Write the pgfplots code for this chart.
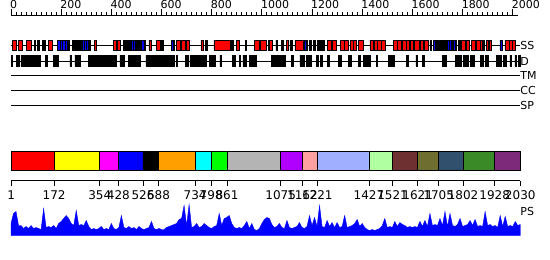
\documentclass[border=0pt]{standalone}
\usepackage{pgfplots}
\usepackage{pgfplotstable}
\pgfplotsset{compat=1.18}
\usepackage{fontspec}
\setmainfont{DejaVu Sans}
\definecolor{d1}{HTML}{FF0000}
\definecolor{d2}{HTML}{FFFF00}
\definecolor{d3}{HTML}{FF00FF}
\definecolor{d4}{HTML}{0000FF}
\definecolor{d5}{HTML}{000000}
\definecolor{d6}{HTML}{FFA000}
\definecolor{d7}{HTML}{00FFFF}
\definecolor{d8}{HTML}{00FF00}
\definecolor{d9}{HTML}{B4B4B4}
\definecolor{d10}{HTML}{B000FF}
\definecolor{d11}{HTML}{FFA0A0}
\definecolor{d12}{HTML}{A0AFFF}
\definecolor{d13}{HTML}{B0FFA0}
\definecolor{d14}{HTML}{6E3030}
\definecolor{d15}{HTML}{6E6E30}
\definecolor{d16}{HTML}{30506E}
\definecolor{d17}{HTML}{3A8A28}
\definecolor{d18}{HTML}{7E2A7A}
\pgfplotstableread{
r h
0 12
10 22
20 24
30 10
40 10
50 7
60 9
70 7
80 10
90 7
100 8
110 7
120 6
130 27
140 8
150 9
160 8
170 10
180 7
190 12
200 14
210 17
220 20
230 17
240 12
250 10
260 25
270 10
280 11
290 10
300 15
310 9
320 6
330 7
340 6
350 7
360 9
370 6
380 7
390 6
400 12
410 7
420 6
430 8
440 20
450 8
460 7
470 9
480 7
490 8
500 6
510 9
520 7
530 6
540 7
550 8
560 14
570 7
580 6
590 7
600 6
610 6
620 8
630 9
640 10
650 11
660 12
670 16
680 17
690 30
700 10
710 31
720 8
730 9
740 12
750 8
760 9
770 12
780 10
790 8
800 7
810 9
820 10
830 22
840 10
850 17
860 18
870 20
880 12
890 8
900 7
910 8
920 7
930 10
940 14
950 7
960 12
970 6
980 5
990 7
1000 12
1010 16
1020 18
1030 17
1040 11
1050 8
1060 9
1070 12
1080 8
1090 7
1100 15
1110 8
1120 7
1130 8
1140 9
1150 13
1160 8
1170 7
1180 9
1190 20
1200 10
1210 18
1220 9
1230 30
1240 9
1250 8
1260 15
1270 9
1280 13
1290 8
1300 13
1310 8
1320 9
1330 20
1340 8
1350 9
1360 10
1370 12
1380 16
1390 9
1400 12
1410 8
1420 6
1430 5
1440 6
1450 5
1460 6
1470 7
1480 10
1490 17
1500 8
1510 9
1520 8
1530 14
1540 9
1550 13
1560 11
1570 10
1580 8
1590 9
1600 8
1610 9
1620 8
1630 14
1640 9
1650 15
1660 9
1670 22
1680 10
1690 11
1700 10
1710 17
1720 10
1730 24
1740 9
1750 22
1760 10
1770 9
1780 11
1790 17
1800 9
1810 10
1820 11
1830 15
1840 10
1850 16
1860 9
1870 10
1880 9
1890 24
1900 10
1910 11
1920 9
1930 10
1940 8
1950 20
1960 9
1970 19
1980 9
1990 10
2000 9
2010 14
2020 10
2030 11
}\psdata
\begin{document}
\begin{tikzpicture}
\useasboundingbox (0,0) rectangle (550bp,260bp);
\pgfplotsset{ss/.style={draw=black, line width=0.8bp, unbounded coords=jump},
 dom/.style={draw=black, line width=0.9bp}}
\begin{axis}[name=main, at={(0,0)}, anchor=south west, width=550bp, height=260bp,
  scale only axis, hide axis, clip=false, xmin=-43.85, xmax=2148.6,
  ymin=0, ymax=260, y dir=reverse]
% track lines
\addplot[black, line width=0.9bp] coordinates {(0,45) (2030,45)};
\addplot[black, line width=0.9bp] coordinates {(0,61) (2030,61)};
\addplot[black, line width=0.9bp] coordinates {(0,75) (2030,75)};
\addplot[black, line width=0.9bp] coordinates {(0,90) (2030,90)};
\addplot[black, line width=0.9bp] coordinates {(0,105) (2030,105)};
% SS helices (red)
\addplot[ss, fill=red] coordinates {
(7,40)(20,40)(20,50)(7,50)(7,40)(nan,nan)
(29,40)(47,40)(47,50)(29,50)(29,40)(nan,nan)
(62,40)(80,40)(80,50)(62,50)(62,40)(nan,nan)
(149,40)(165,40)(165,50)(149,50)(149,40)(nan,nan)
(332,40)(342,40)(342,50)(332,50)(332,40)(nan,nan)
(408,40)(419,40)(419,50)(408,50)(408,40)(nan,nan)
(424,40)(437,40)(437,50)(424,50)(424,40)(nan,nan)
(550,40)(558,40)(558,50)(550,50)(550,40)(nan,nan)
(581,40)(594,40)(594,50)(581,50)(581,40)(nan,nan)
(660,40)(676,40)(676,50)(660,50)(660,40)(nan,nan)
(678,40)(694,40)(694,50)(678,50)(678,40)(nan,nan)
(700,40)(713,40)(713,50)(700,50)(700,40)(nan,nan)
(757,40)(767,40)(767,50)(757,50)(757,40)(nan,nan)
(809,40)(873,40)(873,50)(809,50)(809,40)(nan,nan)
(900,40)(909,40)(909,50)(900,50)(900,40)(nan,nan)
(933,40)(939,40)(939,50)(933,50)(933,40)(nan,nan)
(970,40)(992,40)(992,50)(970,50)(970,40)(nan,nan)
(994,40)(1019,40)(1019,50)(994,50)(994,40)(nan,nan)
(1032,40)(1043,40)(1043,50)(1032,50)(1032,40)(nan,nan)
(1099,40)(1105,40)(1105,50)(1099,50)(1099,40)(nan,nan)
(1132,40)(1165,40)(1165,50)(1132,50)(1132,40)(nan,nan)
(1261,40)(1279,40)(1279,50)(1261,50)(1261,40)(nan,nan)
(1281,40)(1298,40)(1298,50)(1281,50)(1281,40)(nan,nan)
(1315,40)(1330,40)(1330,50)(1315,50)(1315,40)(nan,nan)
(1331,40)(1344,40)(1344,50)(1331,50)(1331,40)(nan,nan)
(1351,40)(1364,40)(1364,50)(1351,50)(1351,40)(nan,nan)
(1366,40)(1378,40)(1378,50)(1366,50)(1366,40)(nan,nan)
(1384,40)(1404,40)(1404,50)(1384,50)(1384,40)(nan,nan)
(1431,40)(1445,40)(1445,50)(1431,50)(1431,40)(nan,nan)
(1447,40)(1460,40)(1460,50)(1447,50)(1447,40)(nan,nan)
(1462,40)(1475,40)(1475,50)(1462,50)(1462,40)(nan,nan)
(1477,40)(1491,40)(1491,50)(1477,50)(1477,40)(nan,nan)
(1524,40)(1540,40)(1540,50)(1524,50)(1524,40)(nan,nan)
(1542,40)(1558,40)(1558,50)(1542,50)(1542,40)(nan,nan)
(1560,40)(1575,40)(1575,50)(1560,50)(1560,40)(nan,nan)
(1577,40)(1590,40)(1590,50)(1577,50)(1577,40)(nan,nan)
(1592,40)(1604,40)(1604,50)(1592,50)(1592,40)(nan,nan)
(1610,40)(1626,40)(1626,50)(1610,50)(1610,40)(nan,nan)
(1630,40)(1645,40)(1645,50)(1630,50)(1630,40)(nan,nan)
(1647,40)(1663,40)(1663,50)(1647,50)(1647,40)(nan,nan)
(1796,40)(1812,40)(1812,50)(1796,50)(1796,40)(nan,nan)
(1814,40)(1829,40)(1829,50)(1814,50)(1814,40)(nan,nan)
(1836,40)(1852,40)(1852,50)(1836,50)(1836,40)(nan,nan)
(1854,40)(1870,40)(1870,50)(1854,50)(1854,40)(nan,nan)
(1872,40)(1880,40)(1880,50)(1872,50)(1872,40)(nan,nan)
(1882,40)(1889,40)(1889,50)(1882,50)(1882,40)(nan,nan)
(1896,40)(1905,40)(1905,50)(1896,50)(1896,40)(nan,nan)
(1907,40)(1916,40)(1916,50)(1907,50)(1907,40)(nan,nan)
(1969,40)(1985,40)(1985,50)(1969,50)(1969,40)(nan,nan)
(1987,40)(1998,40)(1998,50)(1987,50)(1987,40)(nan,nan)
(2000,40)(2009,40)(2009,50)(2000,50)(2000,40)
};
% SS strands (blue)
\addplot[ss, fill=blue] coordinates {
(185,40)(195,40)(195,50)(185,50)(185,40)(nan,nan)
(195,40)(205,40)(205,50)(195,50)(195,40)(nan,nan)
(205,40)(215,40)(215,50)(205,50)(205,40)(nan,nan)
(215,40)(226,40)(226,50)(215,50)(215,40)(nan,nan)
(286,40)(293,40)(293,50)(286,50)(286,40)(nan,nan)
(294,40)(301,40)(301,50)(294,50)(294,40)(nan,nan)
(302,40)(309,40)(309,50)(302,50)(302,40)(nan,nan)
(474,40)(480,40)(480,50)(474,50)(474,40)(nan,nan)
(480,40)(487,40)(487,50)(480,50)(480,40)(nan,nan)
(487,40)(494,40)(494,50)(487,50)(487,40)(nan,nan)
(520,40)(530,40)(530,50)(520,50)(520,40)(nan,nan)
(640,40)(646,40)(646,50)(640,50)(640,40)(nan,nan)
(1169,40)(1176,40)(1176,50)(1169,50)(1169,40)(nan,nan)
(1683,40)(1690,40)(1690,50)(1683,50)(1683,40)(nan,nan)
(1690,40)(1697,40)(1697,50)(1690,50)(1690,40)(nan,nan)
(1702,40)(1709,40)(1709,50)(1702,50)(1702,40)(nan,nan)
(1740,40)(1748,40)(1748,50)(1740,50)(1740,40)(nan,nan)
(1748,40)(1756,40)(1756,50)(1748,50)(1748,40)(nan,nan)
(1765,40)(1772,40)(1772,50)(1765,50)(1765,40)(nan,nan)
(1949,40)(1958,40)(1958,50)(1949,50)(1949,40)
};
% SS other (black)
\addplot[ss, fill=black] coordinates {
(92,40)(97,40)(97,50)(92,50)(92,40)(nan,nan)
(105,40)(112,40)(112,50)(105,50)(105,40)(nan,nan)
(124,40)(136,40)(136,50)(124,50)(124,40)(nan,nan)
(226,40)(232,40)(232,50)(226,50)(226,40)(nan,nan)
(246,40)(286,40)(286,50)(246,50)(246,40)(nan,nan)
(309,40)(315,40)(315,50)(309,50)(309,40)(nan,nan)
(448,40)(461,40)(461,50)(448,50)(448,40)(nan,nan)
(465,40)(474,40)(474,50)(465,50)(465,40)(nan,nan)
(494,40)(520,40)(520,50)(494,50)(494,40)(nan,nan)
(530,40)(534,40)(534,50)(530,50)(530,40)(nan,nan)
(600,40)(607,40)(607,50)(600,50)(600,40)(nan,nan)
(646,40)(651,40)(651,50)(646,50)(646,40)(nan,nan)
(776,40)(784,40)(784,50)(776,50)(776,40)(nan,nan)
(880,40)(886,40)(886,50)(880,50)(880,40)(nan,nan)
(1026,40)(1031,40)(1031,50)(1026,50)(1026,40)(nan,nan)
(1056,40)(1061,40)(1061,50)(1056,50)(1056,40)(nan,nan)
(1079,40)(1085,40)(1085,50)(1079,50)(1079,40)(nan,nan)
(1112,40)(1123,40)(1123,50)(1112,50)(1112,40)(nan,nan)
(1176,40)(1181,40)(1181,50)(1176,50)(1176,40)(nan,nan)
(1189,40)(1199,40)(1199,50)(1189,50)(1189,40)(nan,nan)
(1205,40)(1212,40)(1212,50)(1205,50)(1205,40)(nan,nan)
(1222,40)(1232,40)(1232,50)(1222,50)(1222,40)(nan,nan)
(1238,40)(1248,40)(1248,50)(1238,50)(1238,40)(nan,nan)
(1670,40)(1677,40)(1677,50)(1670,50)(1670,40)(nan,nan)
(1697,40)(1702,40)(1702,50)(1697,50)(1697,40)(nan,nan)
(1709,40)(1730,40)(1730,50)(1709,50)(1709,40)(nan,nan)
(1737,40)(1740,40)(1740,50)(1737,50)(1737,40)(nan,nan)
(1756,40)(1765,40)(1765,50)(1756,50)(1756,40)(nan,nan)
(1772,40)(1777,40)(1777,50)(1772,50)(1772,40)(nan,nan)
(1783,40)(1790,40)(1790,50)(1783,50)(1783,40)
};
% Disorder
\addplot[draw=black, fill=black, line width=0.5bp, unbounded coords=jump] coordinates {
(0,55)(4,55)(4,66)(0,66)(0,55)(nan,nan)
(20,55)(33,55)(33,66)(20,66)(20,55)(nan,nan)
(39,55)(116,55)(116,66)(39,66)(39,55)(nan,nan)
(138,55)(146,55)(146,66)(138,66)(138,55)(nan,nan)
(169,55)(189,55)(189,66)(169,66)(169,55)(nan,nan)
(235,55)(242,55)(242,66)(235,66)(235,55)(nan,nan)
(255,55)(262,55)(262,66)(255,66)(255,55)(nan,nan)
(266,55)(275,55)(275,66)(266,66)(266,55)(nan,nan)
(308,55)(421,55)(421,66)(308,66)(308,55)(nan,nan)
(434,55)(450,55)(450,66)(434,66)(434,55)(nan,nan)
(468,55)(514,55)(514,66)(468,66)(468,55)(nan,nan)
(538,55)(641,55)(641,66)(538,66)(538,55)(nan,nan)
(644,55)(650,55)(650,66)(644,66)(644,55)(nan,nan)
(658,55)(663,55)(663,66)(658,66)(658,55)(nan,nan)
(694,55)(707,55)(707,66)(694,66)(694,55)(nan,nan)
(713,55)(780,55)(780,66)(713,66)(713,55)(nan,nan)
(790,55)(813,55)(813,66)(790,66)(790,55)(nan,nan)
(833,55)(837,55)(837,66)(833,66)(833,55)(nan,nan)
(882,55)(893,55)(893,66)(882,66)(882,55)(nan,nan)
(910,55)(915,55)(915,66)(910,66)(910,55)(nan,nan)
(924,55)(929,55)(929,66)(924,66)(924,55)(nan,nan)
(933,55)(939,55)(939,66)(933,66)(933,55)(nan,nan)
(950,55)(979,55)(979,66)(950,66)(950,55)(nan,nan)
(1039,55)(1092,55)(1092,66)(1039,66)(1039,55)(nan,nan)
(1119,55)(1125,55)(1125,66)(1119,66)(1119,55)(nan,nan)
(1152,55)(1159,55)(1159,66)(1152,66)(1152,55)(nan,nan)
(1161,55)(1168,55)(1168,66)(1161,66)(1161,55)(nan,nan)
(1176,55)(1198,55)(1198,66)(1176,66)(1176,55)(nan,nan)
(1218,55)(1225,55)(1225,66)(1218,66)(1218,55)(nan,nan)
(1234,55)(1241,55)(1241,66)(1234,66)(1234,55)(nan,nan)
(1262,55)(1269,55)(1269,66)(1262,66)(1262,55)(nan,nan)
(1305,55)(1318,55)(1318,66)(1305,66)(1305,55)(nan,nan)
(1345,55)(1358,55)(1358,66)(1345,66)(1345,55)(nan,nan)
(1384,55)(1391,55)(1391,66)(1384,66)(1384,55)(nan,nan)
(1404,55)(1424,55)(1424,66)(1404,66)(1404,55)(nan,nan)
(1427,55)(1431,55)(1431,66)(1427,66)(1427,55)(nan,nan)
(1455,55)(1458,55)(1458,66)(1455,66)(1455,55)(nan,nan)
(1504,55)(1527,55)(1527,66)(1504,66)(1504,55)(nan,nan)
(1577,55)(1584,55)(1584,66)(1577,66)(1577,55)(nan,nan)
(1614,55)(1619,55)(1619,66)(1614,66)(1614,55)(nan,nan)
(1641,55)(1646,55)(1646,66)(1641,66)(1641,55)(nan,nan)
(1719,55)(1726,55)(1726,66)(1719,66)(1719,55)(nan,nan)
(1730,55)(1737,55)(1737,66)(1730,66)(1730,55)(nan,nan)
(1772,55)(1796,55)(1796,66)(1772,66)(1772,55)(nan,nan)
(1803,55)(1823,55)(1823,66)(1803,66)(1803,55)(nan,nan)
(1830,55)(1846,55)(1846,66)(1830,66)(1830,55)(nan,nan)
(1870,55)(1883,55)(1883,66)(1870,66)(1870,55)(nan,nan)
(1890,55)(1903,55)(1903,66)(1890,66)(1890,55)(nan,nan)
(1936,55)(1956,55)(1956,66)(1936,66)(1936,55)(nan,nan)
(1962,55)(1976,55)(1976,66)(1962,66)(1962,55)(nan,nan)
(1989,55)(1996,55)(1996,66)(1989,66)(1989,55)(nan,nan)
(2009,55)(2016,55)(2016,66)(2009,66)(2009,55)(nan,nan)
(2022,55)(2029,55)(2029,66)(2022,66)(2022,55)
};
% domains
\addplot[dom, fill=d1] coordinates {(1,151)(172,151)(172,170)(1,170)(1,151)};
\addplot[dom, fill=d2] coordinates {(172,151)(354,151)(354,170)(172,170)(172,151)};
\addplot[dom, fill=d3] coordinates {(354,151)(428,151)(428,170)(354,170)(354,151)};
\addplot[dom, fill=d4] coordinates {(428,151)(526,151)(526,170)(428,170)(428,151)};
\addplot[dom, fill=d5] coordinates {(526,151)(588,151)(588,170)(526,170)(526,151)};
\addplot[dom, fill=d6] coordinates {(588,151)(734,151)(734,170)(588,170)(588,151)};
\addplot[dom, fill=d7] coordinates {(734,151)(798,151)(798,170)(734,170)(734,151)};
\addplot[dom, fill=d8] coordinates {(798,151)(861,151)(861,170)(798,170)(798,151)};
\addplot[dom, fill=d9] coordinates {(861,151)(1075,151)(1075,170)(861,170)(861,151)};
\addplot[dom, fill=d10] coordinates {(1075,151)(1162,151)(1162,170)(1075,170)(1075,151)};
\addplot[dom, fill=d11] coordinates {(1162,151)(1221,151)(1221,170)(1162,170)(1162,151)};
\addplot[dom, fill=d12] coordinates {(1221,151)(1427,151)(1427,170)(1221,170)(1221,151)};
\addplot[dom, fill=d13] coordinates {(1427,151)(1521,151)(1521,170)(1427,170)(1427,151)};
\addplot[dom, fill=d14] coordinates {(1521,151)(1621,151)(1621,170)(1521,170)(1521,151)};
\addplot[dom, fill=d15] coordinates {(1621,151)(1705,151)(1705,170)(1621,170)(1621,151)};
\addplot[dom, fill=d16] coordinates {(1705,151)(1802,151)(1802,170)(1705,170)(1705,151)};
\addplot[dom, fill=d17] coordinates {(1802,151)(1928,151)(1928,170)(1802,170)(1802,151)};
\addplot[dom, fill=d18] coordinates {(1928,151)(2030,151)(2030,170)(1928,170)(1928,151)};
% labels
\begin{scope}[font=\fontsize{11bp}{13bp}\selectfont]
\node[anchor=west, inner sep=0pt] at (axis cs:2030,45) {SS};
\node[anchor=west, inner sep=0pt] at (axis cs:2030,61) {D};
\node[anchor=west, inner sep=0pt] at (axis cs:2030,75) {TM};
\node[anchor=west, inner sep=0pt] at (axis cs:2030,90) {CC};
\node[anchor=west, inner sep=0pt] at (axis cs:2030,105) {SP};
\node[anchor=west, inner sep=0pt] at (axis cs:2030,211) {PS};
\end{scope}
\end{axis}
% top ruler
\begin{axis}[at={(11bp,245bp)}, anchor=north west, width=506.74bp, height=4bp,
  scale only axis, xmin=0, xmax=2020, ymin=0, ymax=1,
  axis x line*=top, axis y line=none, tick align=outside,
  xtick={0,200,...,2000}, minor x tick num=9,
  major tick length=6bp, minor tick length=3bp,
  every tick/.style={black, line width=0.8bp},
  axis line style={black, line width=0.9bp},
  /pgf/number format/assume math mode=true,
  xticklabel style={anchor=south west, inner sep=0pt, xshift=-1bp, font=\fontsize{11bp}{13bp}\selectfont},
  xticklabel={\pgfmathprintnumber[int detect,1000 sep={}]{\tick}}]
\addplot[draw=none] coordinates {(0,0)(2020,1)};
\end{axis}
% domain scale
\begin{axis}[at={(11.25bp,79.3bp)}, anchor=south west, width=509.0bp, height=4bp,
  scale only axis, xmin=1, xmax=2030, ymin=0, ymax=1,
  axis x line*=bottom, axis y line=none, tick align=outside,
  xtick={1,172,354,428,526,588,734,798,861,1075,1162,1221,1427,1521,1621,1705,1802,1928,2030},
  xticklabels={1,172,354,428,526,588,734,798,861,1075,1162,1221,1427,1521,1621,1705,1802,1928,2030},
  major tick length=5bp,
  every tick/.style={black, line width=0.8bp},
  axis line style={black, line width=0.9bp},
  xticklabel style={anchor=north, inner sep=0pt, yshift=-5bp, font=\fontsize{12bp}{14bp}\selectfont}]
\addplot[draw=none] coordinates {(1,0)(2030,1)};
\end{axis}
% PS
\begin{axis}[at={(0,24.5bp)}, anchor=south west, width=550bp, height=40bp,
  scale only axis, hide axis, clip=false, xmin=-43.85, xmax=2148.6, ymin=0, ymax=40]
\addplot[draw=blue, fill=blue, line width=0.4bp] table[x=r, y=h] {\psdata} \closedcycle;
\end{axis}
\end{tikzpicture}
\end{document}
